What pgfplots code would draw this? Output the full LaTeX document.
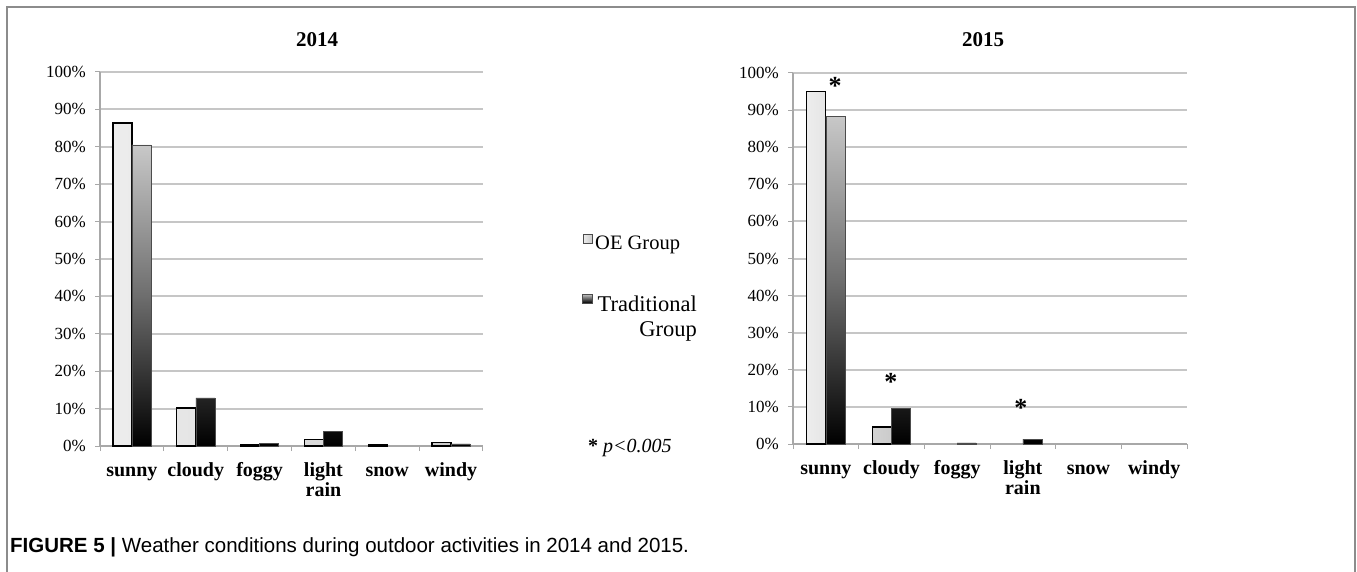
\documentclass[border=0pt]{standalone}
\usepackage{fontspec}
\setmainfont{Liberation Serif}
\newfontfamily\capfont{Liberation Sans}
\usepackage{pgfplots}
\pgfplotsset{compat=1.18}

\definecolor{gridgray}{HTML}{C6C6C6}
\definecolor{axgray}{HTML}{A8A8A8}
\definecolor{framegray}{HTML}{8C8C8C}
\definecolor{oelight}{HTML}{EDEDED}
\definecolor{oedark}{HTML}{CBCBCB}
\definecolor{trtop}{HTML}{C8C8C8}
\definecolor{trmid}{HTML}{6E6E6E}

\pgfplotsset{
  weather/.style={
    scale only axis,
    anchor=south west,
    ybar=0pt, bar width=19pt,
    ymin=0, ymax=100,
    xmin=-0.5, xmax=5.5,
    axis x line*=bottom, axis y line*=left,
    axis line style={axgray, line width=1.3pt, -},
    ymajorgrids,
    major grid style={gridgray, line width=2pt},
    ytick={0,10,...,100},
    yticklabel={\pgfmathprintnumber{\tick}\%},
    /pgf/number format/assume math mode=true,
    yticklabel style={font=\fontsize{17}{20}\selectfont, inner sep=0pt, xshift=-9pt},
    xtick={-0.5,0.5,...,5.5},
    xticklabels={},
    extra x ticks={0,1,2,3,4,5},
    extra x tick labels={sunny,cloudy,foggy,{light\\rain},snow,windy},
    extra x tick style={major tick length=0pt},
    typeset ticklabels with strut,
    xticklabel style={font=\fontsize{20}{20}\selectfont\bfseries, align=center, inner sep=0pt, yshift=-16pt},
    tick align=outside,
    major tick length=5pt,
    tick style={axgray, line width=1pt},
    clip=false,
  },
  oebar/.style={ybar, draw=black, line width=1.3pt, left color=oelight, right color=oedark},
  trbar/.style={ybar, draw=black!70, line width=0.4pt, top color=trtop, bottom color=black, middle color=trmid},
}

\begin{document}
\begin{tikzpicture}[x=1pt, y=1pt]
\path[use as bounding box] (0,0) rectangle (1357,-572);

% outer frame (open at the bottom)
\draw[framegray, line width=1.5pt] (7,-580) -- (7,-7) -- (1355,-7) -- (1355,-580);

% ---------------- 2014 ----------------
\node[font=\fontsize{21}{24}\selectfont\bfseries] at (317,-40) {2014};
\begin{axis}[weather, at={(100pt,-446pt)}, width=383pt, height=374pt]
  % OE Group
  \addplot[oebar] coordinates {(0,86.4) (1,10.2) (2,0.3) (3,1.8) (4,0.3) (5,0.9)};
  % Traditional Group (snow = 0)
  \addplot[trbar] coordinates {(0,80.5) (1,12.9) (2,0.8) (3,4.0) (5,0.6)};
\end{axis}

% ---------------- 2015 ----------------
\node[font=\fontsize{21}{24}\selectfont\bfseries] at (983,-40) {2015};
\begin{axis}[weather, at={(793pt,-444pt)}, width=394pt, height=371pt]
  % OE Group (foggy, light rain, snow, windy = 0)
  \addplot[oebar] coordinates {(0,95.0) (1,4.6)};
  % Traditional Group (snow, windy = 0)
  \addplot[trbar] coordinates {(0,88.3) (1,9.7) (2,0.3) (3,1.3)};
  % significance marks
  \node[anchor=north, inner sep=0pt, font=\fontsize{26}{26}\selectfont\bfseries] at (axis cs:0.14,99) {*};
  \node[anchor=north, inner sep=0pt, font=\fontsize{26}{26}\selectfont\bfseries] at (axis cs:0.99,19.2) {*};
  \node[anchor=north, inner sep=0pt, font=\fontsize{26}{26}\selectfont\bfseries] at (axis cs:2.97,12.2) {*};
\end{axis}

% ---------------- legend ----------------
\fill[left color=oelight, right color=oedark, draw=black!70, line width=0.6pt] (583,-234) rectangle (592,-243);
\node[anchor=base west, inner sep=0pt, font=\fontsize{20.5}{24}\selectfont] at (595,-249) {OE Group};
\fill[top color=trtop, bottom color=black, draw=black!70, line width=0.6pt] (582,-294) rectangle (592,-303);
\node[anchor=base east, inner sep=0pt, align=right, font=\fontsize{22.5}{25}\selectfont] at (697,-336) {Traditional\\Group};

\node[anchor=base west, inner sep=0pt, font=\fontsize{20}{24}\selectfont] at (588,-452) {\textbf{*} \textit{p<0.005}};

% ---------------- caption ----------------
\node[anchor=base west, inner sep=0pt, font=\capfont\fontsize{20.5}{22}\selectfont] at (10,-552)
  {\textbf{FIGURE 5 |} Weather conditions during outdoor activities in 2014 and 2015.};
\end{tikzpicture}
\end{document}
